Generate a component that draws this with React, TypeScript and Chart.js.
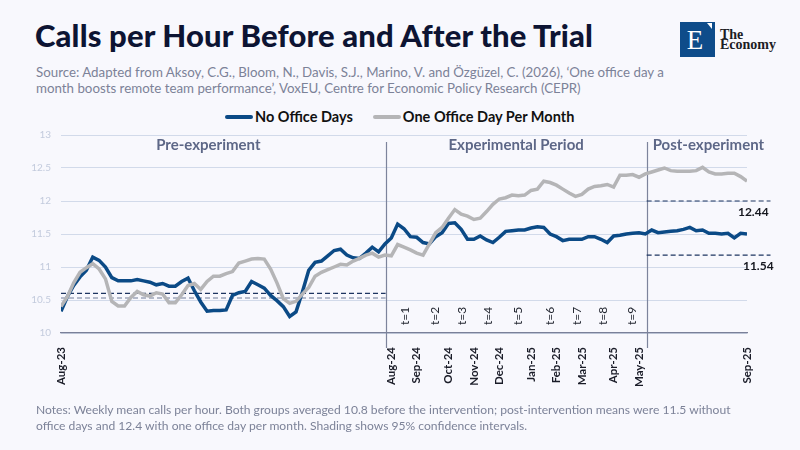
import React, { useEffect, useRef } from "react";
import { Chart, registerables } from "chart.js";
Chart.register(...registerables);

// Weekly mean calls per hour, Aug-23 .. Sep-25 (week index 0..108)
const NO_OFFICE_DAYS = [
  10.33, 10.55, 10.72, 10.85, 10.95, 11.15, 11.10, 11.00, 10.84, 10.79,
  10.79, 10.79, 10.81, 10.79, 10.77, 10.73, 10.75, 10.71, 10.71, 10.78,
  10.83, 10.64, 10.47, 10.33, 10.34, 10.34, 10.35, 10.57, 10.61, 10.63,
  10.78, 10.73, 10.68, 10.57, 10.49, 10.40, 10.25, 10.32, 10.62, 10.95,
  11.07, 11.09, 11.17, 11.25, 11.27, 11.18, 11.14, 11.13, 11.21, 11.30,
  11.23, 11.35, 11.44, 11.65, 11.58, 11.46, 11.45, 11.37, 11.35, 11.46,
  11.52, 11.66, 11.67, 11.57, 11.42, 11.42, 11.47, 11.41, 11.37, 11.45,
  11.54, 11.55, 11.56, 11.56, 11.59, 11.61, 11.60, 11.50, 11.46, 11.40,
  11.42, 11.42, 11.42, 11.46, 11.46, 11.42, 11.37, 11.47, 11.48, 11.50,
  11.51, 11.52, 11.50, 11.56, 11.52, 11.53, 11.54, 11.55, 11.57, 11.60,
  11.55, 11.56, 11.51, 11.51, 11.50, 11.51, 11.44, 11.51, 11.50,
];
const ONE_OFFICE_DAY = [
  10.40, 10.55, 10.76, 10.92, 10.99, 11.05, 10.97, 10.82, 10.48, 10.41,
  10.41, 10.54, 10.63, 10.58, 10.56, 10.61, 10.59, 10.46, 10.46, 10.58,
  10.72, 10.75, 10.66, 10.78, 10.86, 10.86, 10.90, 10.93, 11.06, 11.09,
  11.12, 11.13, 11.12, 10.97, 10.76, 10.52, 10.45, 10.48, 10.59, 10.69,
  10.86, 10.92, 10.96, 11.00, 11.04, 11.03, 11.09, 11.13, 11.18, 11.21,
  11.15, 11.18, 11.17, 11.34, 11.30, 11.26, 11.21, 11.18, 11.35, 11.52,
  11.60, 11.74, 11.87, 11.80, 11.77, 11.72, 11.74, 11.84, 11.95, 12.03,
  12.05, 12.09, 12.08, 12.09, 12.16, 12.18, 12.30, 12.28, 12.24, 12.18,
  12.12, 12.07, 12.10, 12.18, 12.22, 12.23, 12.25, 12.21, 12.39, 12.39,
  12.40, 12.36, 12.41, 12.44, 12.47, 12.50, 12.46, 12.45, 12.45, 12.45,
  12.46, 12.51, 12.44, 12.41, 12.41, 12.42, 12.42, 12.37, 12.30,
];

const X_TICK_IDX = [0, 52, 56, 61, 65, 69, 74, 78, 82, 87, 91, 108];
const X_TICK_LABELS = ["Aug-23", "Aug-24", "Sep-24", "Oct-24", "Nov-24", "Dec-24", "Jan-25", "Feb-25", "Mar-25", "Apr-25", "May-25", "Sep-25"];
const Y_TICKS = [10, 10.5, 11, 11.5, 12, 12.5, 13];

const PHASE_BREAKS = [51.1, 92.2];
const PHASE_LABELS = ["Pre-experiment", "Experimental Period", "Post-experiment"];
const T_IDX = [54.2, 58.9, 63.1, 67.3, 72.0, 77.0, 81.2, 85.3, 89.9];
const T_LABELS = ["t=1", "t=2", "t=3", "t=4", "t=5", "t=6", "t=7", "t=8", "t=9"];

const PRE_REF = [10.6, 10.53];
const POST_REF = [12.0, 11.18];
const POST_REF_LABELS = ["12.44", "11.54"];

const BLUE = "#0b4a86";
const GRAY = "#b5b5b7";
const FONT = "Lato, 'Noto Sans', sans-serif";

const overlay = {
  id: "overlay",
  beforeDatasetsDraw(chart: any) {
    const { ctx, scales, chartArea } = chart;
    const x = scales.x;
    ctx.save();
    ctx.strokeStyle = "#7d849c";
    ctx.lineWidth = 1.2;
    PHASE_BREAKS.forEach((v) => {
      const px = Math.round(x.getPixelForValue(v)) + 0.5;
      ctx.beginPath();
      ctx.moveTo(px, chartArea.top + 7);
      ctx.lineTo(px, chartArea.bottom + 15);
      ctx.stroke();
    });
    ctx.restore();
  },
  afterDatasetsDraw(chart: any) {
    const { ctx, scales, chartArea } = chart;
    const x = scales.x;
    const y = scales.y;
    ctx.save();
    // phase headings
    ctx.fillStyle = "#5d6787";
    ctx.font = `bold 15px ${FONT}`;
    ctx.textBaseline = "middle";
    const ty = chartArea.top + 10;
    const b0 = x.getPixelForValue(PHASE_BREAKS[0]);
    const b1 = x.getPixelForValue(PHASE_BREAKS[1]);
    ctx.textAlign = "center";
    ctx.fillText(PHASE_LABELS[0], x.getPixelForValue(23.2), ty);
    ctx.fillText(PHASE_LABELS[1], (b0 + b1) / 2, ty);
    ctx.textAlign = "left";
    ctx.fillText(PHASE_LABELS[2], b1 + 6, ty);
    // t labels
    ctx.fillStyle = "#222630";
    ctx.font = `12px ${FONT}`;
    T_IDX.forEach((v, i) => {
      ctx.save();
      ctx.translate(x.getPixelForValue(v), chartArea.bottom - 17);
      ctx.rotate(-Math.PI / 2);
      ctx.textAlign = "center";
      ctx.textBaseline = "middle";
      ctx.fillText(T_LABELS[i], 0, 0);
      ctx.restore();
    });
    // post reference labels
    ctx.fillStyle = "#15171f";
    ctx.font = `bold 12px ${FONT}`;
    ctx.textAlign = "right";
    ctx.textBaseline = "middle";
    POST_REF.forEach((v, i) => {
      ctx.fillText(POST_REF_LABELS[i], b1 + 122 + i * 5, y.getPixelForValue(v) + 11);
    });
    ctx.restore();
  },
};

function ChartCanvas() {
  const ref = useRef<HTMLCanvasElement | null>(null);
  useEffect(() => {
    if (!ref.current) return;
    const refLine = (val: number, x0: number, x1: number, color: string) => ({
      data: [{ x: x0, y: val }, { x: x1, y: val }],
      borderColor: color,
      borderWidth: 1.2,
      borderDash: [5, 3],
      pointRadius: 0,
      clip: false as any,
      order: 5,
    });
    const chart = new Chart(ref.current, {
      type: "line",
      data: {
        datasets: [
          {
            label: "One Office Day Per Month",
            data: ONE_OFFICE_DAY.map((v, i) => ({ x: i, y: v })),
            borderColor: GRAY,
            borderWidth: 3.5,
            pointRadius: 0,
            tension: 0,
            order: 1,
          },
          {
            label: "No Office Days",
            data: NO_OFFICE_DAYS.map((v, i) => ({ x: i, y: v })),
            borderColor: BLUE,
            borderWidth: 3.5,
            pointRadius: 0,
            tension: 0,
            order: 2,
          },
          refLine(PRE_REF[0], 0, PHASE_BREAKS[0], "#1d3461"),
          refLine(PRE_REF[1], 0, PHASE_BREAKS[0], "#6f7a97"),
          refLine(POST_REF[0], PHASE_BREAKS[1], 111.7, "#1d3461"),
          refLine(POST_REF[1], PHASE_BREAKS[1], 111.7, "#1d3461"),
        ] as any,
      },
      options: {
        animation: false,
        responsive: true,
        maintainAspectRatio: false,
        layout: { padding: { top: 4, right: 53, left: 0, bottom: 0 } },
        plugins: { legend: { display: false }, tooltip: { enabled: false } },
        scales: {
          x: {
            type: "linear",
            min: 0,
            max: 108,
            afterBuildTicks: (s: any) => {
              s.ticks = X_TICK_IDX.map((v) => ({ value: v }));
            },
            afterFit: (s: any) => {
              s.height = 72;
            },
            grid: { display: false, drawTicks: false },
            border: { display: true, color: "#7a8099", width: 1.2 },
            ticks: {
              autoSkip: false,
              maxRotation: 90,
              minRotation: 90,
              padding: 14,
              color: "#1a1c28",
              font: { family: FONT, size: 11.5, weight: "bold" },
              callback: (v: any) => {
                const k = X_TICK_IDX.indexOf(Number(v));
                return k >= 0 ? X_TICK_LABELS[k] : "";
              },
            },
          },
          y: {
            min: 10,
            max: 13,
            afterBuildTicks: (s: any) => {
              s.ticks = Y_TICKS.map((v) => ({ value: v }));
            },
            afterFit: (s: any) => {
              s.width = 61;
            },
            grid: { color: "#d2daea", lineWidth: 1, drawTicks: false },
            border: { display: false },
            ticks: {
              padding: 10,
              color: "#c3cbdd",
              font: { family: FONT, size: 10 },
              callback: (v: any) => String(v),
            },
          },
        },
      } as any,
      plugins: [overlay],
    });
    return () => chart.destroy();
  }, []);
  return <canvas ref={ref} />;
}

export default function App() {
  return (
    <div
      style={{
        position: "fixed",
        left: 0,
        top: 0,
        width: 800,
        height: 450,
        background: "#f8f8fd",
        fontFamily: FONT,
        overflow: "hidden",
      }}
    >
      <div
        style={{
          position: "absolute",
          left: 35,
          top: 16,
          fontSize: 31,
          fontWeight: 900,
          color: "#0d1433",
          whiteSpace: "nowrap",
          letterSpacing: 0.15,
        }}
      >
        Calls per Hour Before and After the Trial
      </div>
      <div
        style={{
          position: "absolute",
          left: 36,
          top: 64,
          fontSize: 13.3,
          lineHeight: "16px",
          color: "#7c8298",
          whiteSpace: "nowrap",
        }}
      >
        Source: Adapted from Aksoy, C.G., Bloom, N., Davis, S.J., Marino, V. and Özgüzel, C. (2026), ‘One office day a
        <br />
        month boosts remote team performance’, VoxEU, Centre for Economic Policy Research (CEPR)
      </div>
      {/* logo */}
      <div style={{ position: "absolute", left: 680, top: 22, width: 35, height: 35, background: "#0e4c8a" }}>
        <div
          style={{
            position: "absolute",
            left: 0,
            top: 2,
            width: 30,
            textAlign: "center",
            color: "#fff",
            fontFamily: "'Liberation Serif', 'DejaVu Serif', serif",
            fontSize: 27,
            lineHeight: "32px",
          }}
        >
          E
        </div>
        <div
          style={{
            position: "absolute",
            right: 3,
            top: 1,
            width: 0,
            height: 0,
            borderLeft: "5px solid transparent",
            borderTop: "6px solid #fff",
          }}
        />
      </div>
      <div
        style={{
          position: "absolute",
          left: 720,
          top: 30,
          fontFamily: "'Liberation Serif', 'DejaVu Serif', serif",
          fontSize: 14,
          lineHeight: "10px",
          color: "#1c1c24",
          fontWeight: 700,
        }}
      >
        The
        <br />
        Economy
      </div>
      {/* legend */}
      <div
        style={{
          position: "absolute",
          left: 225,
          top: 108,
          display: "flex",
          alignItems: "center",
          fontSize: 14.5,
          fontWeight: 700,
          color: "#111",
          whiteSpace: "nowrap",
        }}
      >
        <span style={{ display: "inline-block", width: 28, height: 4, background: BLUE, borderRadius: 2, marginRight: 2 }} />
        <span>No Office Days</span>
        <span
          style={{ display: "inline-block", width: 28, height: 4, background: GRAY, borderRadius: 2, marginLeft: 20, marginRight: 2 }}
        />
        <span>One Office Day Per Month</span>
      </div>
      <div style={{ position: "absolute", left: 0, top: 119, width: 800, height: 286 }}>
        <ChartCanvas />
      </div>
      <div
        style={{
          position: "absolute",
          left: 36,
          top: 402,
          fontSize: 12.1,
          lineHeight: "16px",
          color: "#7c8298",
          whiteSpace: "nowrap",
        }}
      >
        Notes: Weekly mean calls per hour. Both groups averaged 10.8 before the intervention; post-intervention means were 11.5 without
        <br />
        office days and 12.4 with one office day per month. Shading shows 95% confidence intervals.
      </div>
    </div>
  );
}
